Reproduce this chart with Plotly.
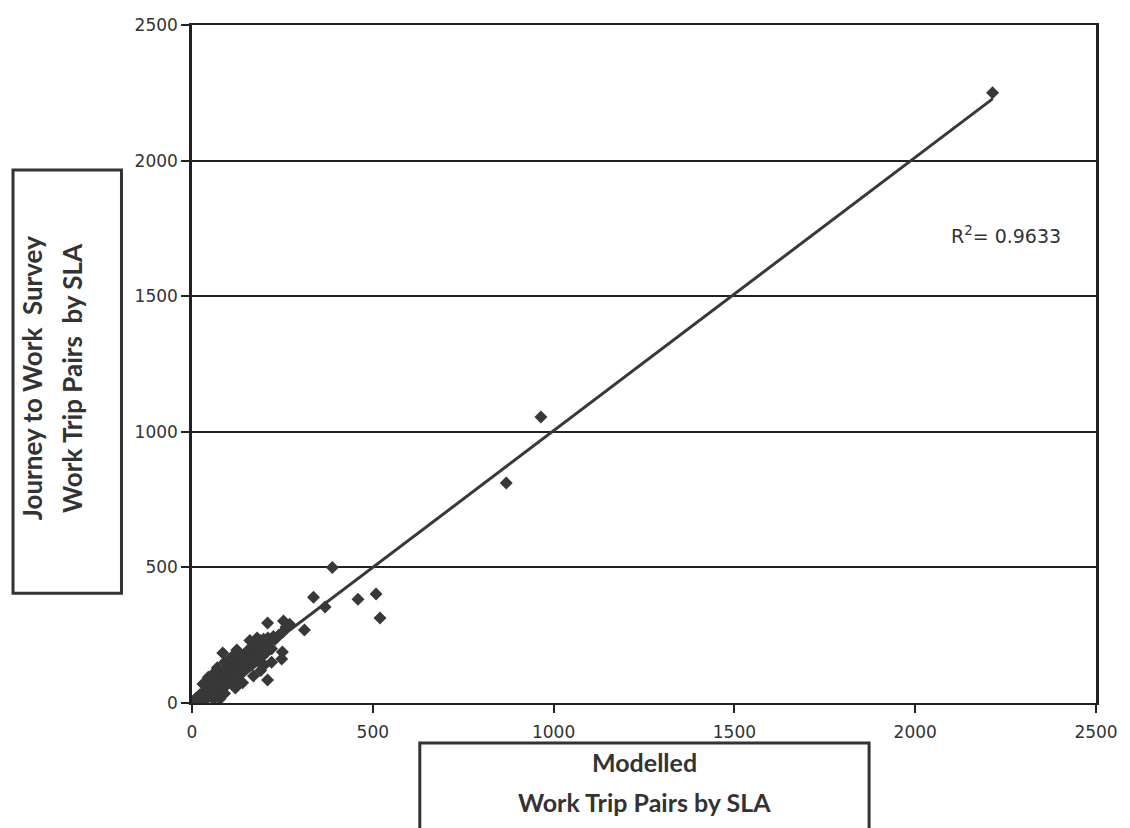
import plotly.graph_objects as go

# Modelled vs surveyed work-trip pairs, one point per SLA pair
modelled = [
    2, 5, 8, 10, 12, 15, 18, 20, 22, 25, 28, 30, 32, 35, 38, 40, 42, 45, 48, 50,
    52, 55, 58, 60, 62, 65, 68, 70, 72, 75, 78, 80, 82, 85, 88, 90, 92, 95, 98, 100,
    102, 105, 108, 110, 112, 115, 118, 120, 122, 125, 128, 130, 132, 135, 138, 140,
    142, 145, 148, 150, 152, 155, 158, 160, 162, 165, 168, 170, 172, 175, 178, 180,
    182, 185, 188, 190, 192, 195, 198, 200, 205, 210, 215, 220, 225, 230, 240, 250,
    260, 270,
    30, 45, 60, 70, 90, 110, 130, 160, 180,
    60, 90, 120, 140, 170, 190, 200, 220,
    85, 124, 209, 253, 311, 250, 248, 209, 77, 336, 368, 388, 459, 509, 520,
    869, 965, 2214,
]
survey = [
    5, 2, 12, 4, 18, 8, 25, 12, 30, 18, 10, 35, 22, 45, 28, 15, 50, 35, 60, 40,
    25, 65, 48, 30, 75, 55, 40, 85, 62, 48, 95, 70, 55, 105, 80, 60, 115, 88, 70, 125,
    95, 78, 135, 100, 85, 145, 110, 92, 155, 118, 100, 165, 128, 108, 172, 140,
    115, 180, 150, 125, 190, 160, 135, 200, 170, 140, 210, 178, 150, 215, 190, 155,
    225, 200, 165, 230, 210, 175, 235, 220, 185, 240, 228, 200, 245, 235, 250, 260,
    280, 290,
    70, 95, 110, 130, 150, 170, 185, 230, 240,
    15, 35, 55, 75, 100, 120, 140, 150,
    184, 195, 295, 302, 269, 188, 162, 85, 15, 390, 354, 500, 383, 402, 313,
    811, 1055, 2250,
]

# Linear trend line shown on the chart (survey = slope * modelled + intercept)
trend_slope = 1.008
trend_intercept = -4.0
r2_label = "R<sup>2</sup>= 0.9633"

x_ticks = [0, 500, 1000, 1500, 2000, 2500]
y_ticks = [0, 500, 1000, 1500, 2000, 2500]

trend_x = [min(modelled), max(modelled)]
trend_y = [trend_slope * v + trend_intercept for v in trend_x]

ink = "#333333"
tick_font = dict(family="DejaVu Sans, Liberation Sans, sans-serif", size=17, color=ink)

fig = go.Figure()
fig.add_trace(go.Scatter(
    x=modelled, y=survey, mode="markers",
    marker=dict(symbol="diamond", size=10, color="#383838"),
    showlegend=False,
))
fig.add_trace(go.Scatter(
    x=trend_x, y=trend_y, mode="lines",
    line=dict(color="#383838", width=3),
    showlegend=False,
))

fig.update_xaxes(
    range=[0, 2500], tickvals=x_ticks, ticktext=[str(v) for v in x_ticks],
    showgrid=False, zeroline=False,
    showline=True, linecolor="#222222", linewidth=2, mirror=True,
    ticks="outside", ticklen=8, tickcolor="#222222", tickwidth=1.5,
    tickfont=tick_font, ticklabelstandoff=5,
)
fig.update_yaxes(
    range=[0, 2500], tickvals=y_ticks, ticktext=[str(v) for v in y_ticks],
    showgrid=True, gridcolor="#222222", gridwidth=1.5, zeroline=False,
    showline=True, linecolor="#222222", linewidth=2.5, mirror=True,
    ticks="outside", ticklen=8, tickcolor="#222222", tickwidth=1.5,
    tickfont=tick_font,
)

# Boxed axis titles
box_line = dict(color=ink, width=3)
fig.add_shape(type="rect", xref="paper", yref="paper",
              x0=-0.198, x1=-0.078, y0=0.162, y1=0.786,
              line=box_line, fillcolor="rgba(0,0,0,0)")
fig.add_shape(type="rect", xref="paper", yref="paper",
              x0=0.252, x1=0.749, y0=-0.25, y1=-0.059,
              line=box_line, fillcolor="rgba(0,0,0,0)")

annotations = [
    dict(text="Journey to Work  Survey", x=-0.177, y=0.479, textangle=-90, size=26),
    dict(text="Work Trip Pairs  by SLA", x=-0.132, y=0.479, textangle=-90, size=26),
    dict(text="Modelled", x=0.5006, y=-0.087, textangle=0, size=25),
    dict(text="Work Trip Pairs by SLA", x=0.5006, y=-0.146, textangle=0, size=25),
]
for a in annotations:
    fig.add_annotation(xref="paper", yref="paper", showarrow=False,
                       xanchor="center", yanchor="middle",
                       text=a["text"], x=a["x"], y=a["y"], textangle=a["textangle"],
                       font=dict(family="Lato, Open Sans, sans-serif", size=a["size"],
                                 color=ink, weight="bold"))

fig.add_annotation(x=2250, y=1726, xref="x", yref="y", text=r2_label,
                   showarrow=False, xanchor="center", yanchor="middle",
                   font=dict(family="DejaVu Sans, Liberation Sans, sans-serif",
                             size=19, color=ink))

fig.update_layout(
    width=1130, height=828,
    margin=dict(l=192, r=29, t=25, b=125),
    paper_bgcolor="white", plot_bgcolor="white",
)

fig.write_html("out.html")
